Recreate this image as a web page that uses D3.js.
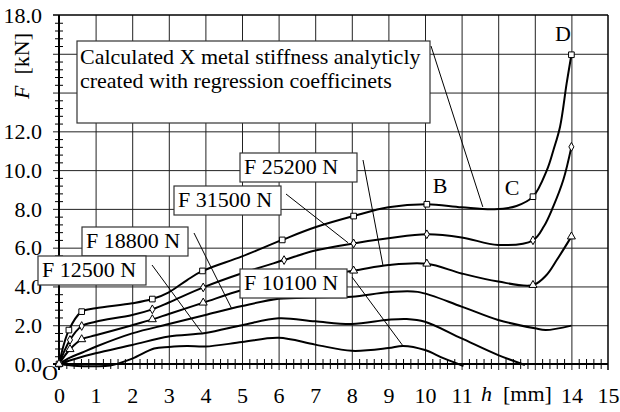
<!DOCTYPE html>
<html>
<head>
<meta charset="utf-8">
<script src="https://cdn.jsdelivr.net/npm/d3@7"></script>
<style>
  body { margin: 0; background: #fff; }
  svg { display: block; }
  text { font-family: "Liberation Serif", "Times New Roman", serif; fill: #000; }
</style>
</head>
<body>
<svg id="chart" width="620" height="412"></svg>
<script>
// Tick labels
const xTickLabels = [0, 1, 2, 3, 4, 5, 6, 7, 8, 9, 10, 11, 14, 15];
const yTickLabels = [0, 2, 4, 6, 8, 10, 12, 18];

// Curves: [h (mm), F (kN)]
const calcCurve = [[0,0],[0.27,1.75],[0.62,2.7],[1,2.87],[2,3.13],[2.55,3.35],[3,3.7],[3.5,4.33],[3.92,4.8],[5,5.55],[6.1,6.4],[7,7.05],[8.05,7.63],[9,8.08],[10.05,8.24],[11,8.08],[11.9,7.98],[12.5,8.15],[12.95,8.63],[13.33,10.0],[13.51,11.04],[13.69,12.24],[13.87,14.47],[14,15.95]];
const calcMarks = [[0,0],[0.27,1.75],[0.62,2.7],[2.55,3.35],[3.92,4.8],[6.1,6.4],[8.05,7.63],[10.05,8.24],[12.95,8.63],[14,15.95]];

const f31500Curve = [[0,0],[0.3,1.24],[0.62,1.96],[1,2.18],[2,2.53],[2.55,2.82],[3,3.17],[3.94,3.95],[5,4.68],[6.15,5.36],[7,5.85],[8.05,6.22],[9,6.48],[10.05,6.69],[11,6.53],[12,6.14],[12.95,6.38],[13.25,7.1],[13.5,8.1],[13.78,9.5],[14,11.2]];
const f31500Marks = [[0,0],[0.3,1.24],[0.62,1.96],[2.55,2.82],[3.94,3.95],[6.15,5.36],[8.05,6.22],[10.05,6.69],[12.95,6.38],[14,11.2]];

const f25200Curve = [[0,0],[0.3,0.76],[0.62,1.27],[1,1.48],[2,2.0],[2.55,2.3],[3,2.58],[3.94,3.16],[5,3.82],[6.1,4.3],[7,4.55],[8.05,4.81],[9,5.1],[10.05,5.17],[11,4.67],[12,4.25],[12.95,4.07],[13.32,4.59],[13.6,5.36],[14,6.57]];
const f25200Marks = [[0,0],[0.3,0.76],[0.62,1.27],[2.55,2.3],[3.94,3.16],[6.1,4.3],[8.05,4.81],[10.05,5.17],[12.95,4.07],[14,6.57]];

const f18800Curve = [[0,0],[0.3,0.33],[0.62,0.58],[1,0.89],[2,1.58],[3,2.06],[4,2.53],[5,2.99],[6,3.36],[7,3.43],[8,3.47],[9,3.7],[9.8,3.72],[11,2.96],[12,2.27],[13,1.84],[13.3,1.75],[14,1.98]];
const f12500Curve = [[0,0],[0.5,0.3],[1,0.55],[2,0.98],[3,1.42],[4,1.6],[5,2.0],[6,2.36],[7,2.2],[8,2.06],[9,2.28],[9.5,2.32],[10,2.18],[11,1.32],[12,0.46],[12.73,-0.05]];
const f10100Curve = [[0,0],[0.5,-0.1],[1,-0.12],[1.4,-0.08],[2,0.28],[2.6,0.8],[3,0.88],[3.5,0.93],[4,0.9],[5,1.13],[6,1.35],[7,1.0],[8,0.68],[9,0.82],[9.4,0.93],[10,0.72],[10.5,0.3],[11.05,-0.1]];

// Callout labels
const calloutLines = ["Calculated X metal stiffness analyticly", "created with regression coefficinets"];
const boxLabels = ["F 25200 N", "F 31500 N", "F 18800 N", "F 12500 N", "F 10100 N"];
const pointLetters = ["B", "C", "D"];

const svg = d3.select("#chart");
const x = d3.scaleLinear([0, 15], [59, 608]);
const y = d3.scaleLinear([0, 18], [364, 15]);

// Grid: vertical lines every 1 mm (extending as ticks below axis)
svg.append("g")
  .attr("transform", `translate(0,${y(0) + 6})`)
  .call(d3.axisBottom(x).tickValues(d3.range(1, 15)).tickSize(-(y(0) + 6 - y(18))).tickFormat(""))
  .call(g => g.select(".domain").remove())
  .call(g => g.selectAll("line").attr("stroke", "#222").attr("stroke-width", 1));

// Grid: horizontal lines every 2 kN (extending as ticks left of axis)
svg.append("g")
  .attr("transform", `translate(${x(0) - 6},0)`)
  .call(d3.axisLeft(y).tickValues(d3.range(2, 18, 2)).tickSize(-(x(15) - x(0) + 6)).tickFormat(""))
  .call(g => g.select(".domain").remove())
  .call(g => g.selectAll("line").attr("stroke", "#222").attr("stroke-width", 1));

// Minor ticks on the h axis
const xMinor = d3.range(0, 15.001, 0.2).filter(v => Math.abs(v - Math.round(v)) > 1e-6);
svg.append("g")
  .attr("transform", `translate(0,${y(0) + 5})`)
  .call(d3.axisBottom(x).tickValues(xMinor).tickSize(-10).tickFormat(""))
  .call(g => g.select(".domain").remove())
  .call(g => g.selectAll("line").attr("stroke", "#000").attr("stroke-width", 1));

// Minor ticks on the F axis
const yMinor = d3.range(0, 18.001, 0.4).filter(v => Math.abs(v / 2 - Math.round(v / 2)) > 1e-6);
svg.append("g")
  .attr("transform", `translate(${x(0) - 4},0)`)
  .call(d3.axisLeft(y).tickValues(yMinor).tickSize(-8).tickFormat(""))
  .call(g => g.select(".domain").remove())
  .call(g => g.selectAll("line").attr("stroke", "#000").attr("stroke-width", 1));

// Frame
svg.append("line").attr("x1", x(0) - 6).attr("x2", x(15)).attr("y1", y(18)).attr("y2", y(18)).attr("stroke", "#000").attr("stroke-width", 1.5);
svg.append("line").attr("x1", x(15)).attr("x2", x(15)).attr("y1", y(18)).attr("y2", y(0) + 6).attr("stroke", "#000").attr("stroke-width", 1.5);
svg.append("line").attr("x1", x(0)).attr("x2", x(0)).attr("y1", y(18)).attr("y2", y(0) + 6).attr("stroke", "#000").attr("stroke-width", 2);
svg.append("line").attr("x1", x(0) - 6).attr("x2", x(15)).attr("y1", y(0)).attr("y2", y(0)).attr("stroke", "#000").attr("stroke-width", 2);

// Tick labels
svg.append("g")
  .attr("transform", `translate(42,0)`)
  .call(d3.axisLeft(y).tickValues(yTickLabels).tickSize(0).tickPadding(0).tickFormat(d3.format(".1f")))
  .call(g => g.select(".domain").remove())
  .call(g => g.selectAll("text").attr("font-size", 22).attr("font-family", null).attr("dy", "0.33em"));

svg.append("g")
  .attr("transform", `translate(0,403)`)
  .call(d3.axisBottom(x).tickValues(xTickLabels).tickSize(0).tickPadding(0).tickFormat(d3.format("d")))
  .call(g => g.select(".domain").remove())
  .call(g => g.selectAll("text").attr("font-size", 22).attr("font-family", null).attr("y", 0).attr("dy", 0));

// Axis titles
const xt = svg.append("text").attr("x", x(12.5)).attr("y", 401).attr("text-anchor", "middle").attr("font-size", 22);
xt.append("tspan").attr("font-style", "italic").text("h");
xt.append("tspan").text("\u00a0 [mm]");

const yt = svg.append("text").attr("transform", "translate(29,66) rotate(-90)").attr("text-anchor", "middle").attr("font-size", 22);
yt.append("tspan").attr("font-style", "italic").text("F");
yt.append("tspan").text("\u00a0 [kN]");

svg.append("text").attr("x", 50).attr("y", 380).attr("text-anchor", "middle").attr("font-size", 22).text("O");

// Curves
const line = d3.line().x(d => x(d[0])).y(d => y(d[1])).curve(d3.curveCatmullRom.alpha(0.5));
[calcCurve, f31500Curve, f25200Curve, f18800Curve, f12500Curve, f10100Curve].forEach(c => {
  svg.append("path").datum(c).attr("d", line).attr("fill", "none").attr("stroke", "#000").attr("stroke-width", 2);
});

// Markers
function drawMarks(data, type, size) {
  svg.append("g").selectAll("path").data(data).join("path")
    .attr("transform", d => `translate(${x(d[0])},${y(d[1])})`)
    .attr("d", d3.symbol(type, size))
    .attr("fill", "#fff").attr("stroke", "#000").attr("stroke-width", 1);
}
drawMarks(calcMarks, d3.symbolSquare, 32);
drawMarks(f31500Marks, d3.symbolDiamond, 22);
drawMarks(f25200Marks, d3.symbolTriangle, 28);

// Callout boxes
function box(x0, y0, x1, y1) {
  svg.append("rect").attr("x", x0).attr("y", y0).attr("width", x1 - x0).attr("height", y1 - y0)
    .attr("fill", "#fff").attr("stroke", "#333").attr("stroke-width", 1.2);
}
function leader(px, py, d) {
  svg.append("line").attr("x1", px).attr("y1", py).attr("x2", x(d[0])).attr("y2", y(d[1]))
    .attr("stroke", "#000").attr("stroke-width", 1);
}

box(77, 41, 430, 123);
calloutLines.forEach((t, i) => svg.append("text").attr("x", 80).attr("y", 64 + i * 24).attr("font-size", 22).text(t));
leader(431, 46, [11.58, 8.1]);

const boxes = [
  { x0: 240, x1: 357, base: 174, from: [363, 160], to: [8.85, 5.1] },
  { x0: 174, x1: 281, base: 207, from: [286, 194], to: [7.9, 6.25] },
  { x0: 82,  x1: 188, base: 248, from: [194, 233], to: [4.72, 2.85] },
  { x0: 38,  x1: 146, base: 277, from: [152, 265], to: [3.9, 1.62] },
  { x0: 240, x1: 347, base: 290, from: [352, 277], to: [9.4, 0.93] }
];
boxes.forEach((b, i) => {
  box(b.x0, b.base - 21, b.x1, b.base + 8);
  svg.append("text").attr("x", b.x0 + 4).attr("y", b.base).attr("font-size", 22).text(boxLabels[i]);
  leader(b.from[0], b.from[1], b.to);
});

// Point letters
const letterPos = [[10.41, 8.82], [12.38, 8.72], [13.77, 16.66]];
pointLetters.forEach((t, i) => {
  svg.append("text").attr("x", x(letterPos[i][0])).attr("y", y(letterPos[i][1])).attr("text-anchor", "middle").attr("font-size", 22).text(t);
});
</script>
</body>
</html>
